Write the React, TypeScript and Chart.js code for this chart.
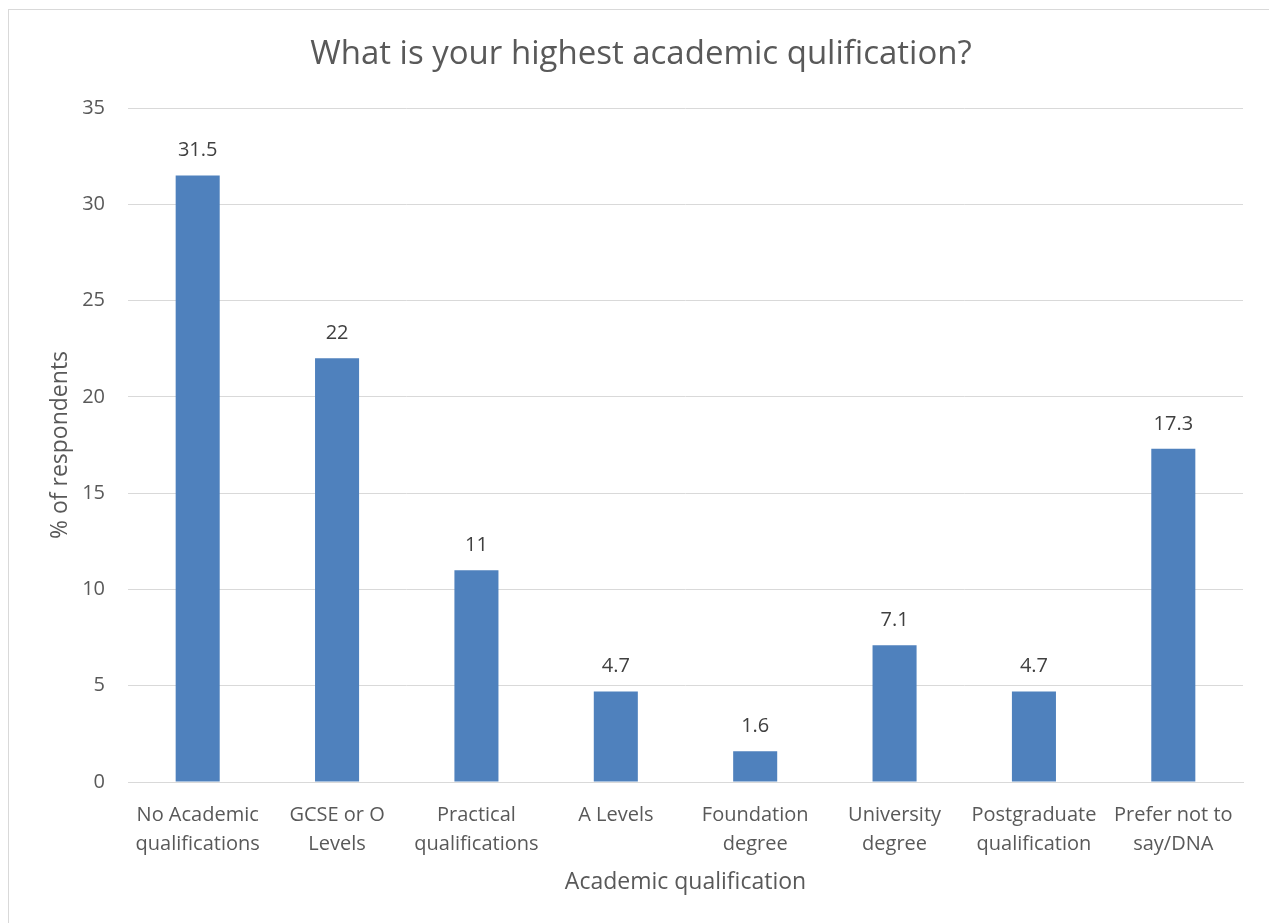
import React, { useEffect, useRef } from "react";
import { Chart, registerables } from "chart.js";

Chart.register(...registerables);

const categories: string[][] = [
  ["No Academic", "qualifications"],
  ["GCSE or O", "Levels"],
  ["Practical", "qualifications"],
  ["A Levels"],
  ["Foundation", "degree"],
  ["University", "degree"],
  ["Postgraduate", "qualification"],
  ["Prefer not to", "say/DNA"],
];
const values: number[] = [31.5, 22, 11, 4.7, 1.6, 7.1, 4.7, 17.3];
const valueLabels: string[] = ["31.5", "22", "11", "4.7", "1.6", "7.1", "4.7", "17.3"];

const FONT = "'Open Sans', sans-serif";
const W = 1260;
const H = 913;

const dataLabelPlugin = {
  id: "dataLabels",
  afterDatasetsDraw(chart: any) {
    const ctx = chart.ctx;
    const meta = chart.getDatasetMeta(0);
    ctx.save();
    ctx.fillStyle = "#404040";
    ctx.font = `20px ${FONT}`;
    ctx.textAlign = "center";
    ctx.textBaseline = "middle";
    meta.data.forEach((bar: any, i: number) => {
      ctx.fillText(valueLabels[i], bar.x, bar.y - 25);
    });
    ctx.restore();
  },
};

export default function App() {
  const ref = useRef<HTMLCanvasElement | null>(null);
  useEffect(() => {
    if (!ref.current) return;
    const chart = new Chart(ref.current, {
      type: "bar",
      data: {
        labels: categories,
        datasets: [
          {
            data: values,
            backgroundColor: "#4f81bd",
            barPercentage: 0.316,
            categoryPercentage: 1,
          },
        ],
      },
      options: {
        responsive: false,
        animation: false,
        layout: { padding: { left: 30, right: 26, top: 0, bottom: 27 } },
        plugins: {
          legend: { display: false },
          tooltip: { enabled: false },
          title: {
            display: true,
            text: "What is your highest academic qulification?",
            color: "#595959",
            font: { family: FONT, size: 33, weight: "normal" },
            padding: { top: 25, bottom: 33.4 },
          },
        },
        scales: {
          x: {
            grid: { display: false, drawTicks: false },
            border: { color: "#d9d9d9", width: 1 },
            ticks: {
              color: "#595959",
              font: { family: FONT, size: 20, lineHeight: 1.45 },
              padding: 19,
              maxRotation: 0,
              autoSkip: false,
            },
            title: {
              display: true,
              text: "Academic qualification",
              color: "#595959",
              font: { family: FONT, size: 23 },
              padding: { top: 0, bottom: 0 },
            },
            afterFit: (s: any) => {
              s.height = 114;
            },
          },
          y: {
            min: 0,
            max: 35,
            ticks: {
              stepSize: 5,
              color: "#595959",
              font: { family: FONT, size: 20 },
              padding: 23,
            },
            grid: { color: "#d9d9d9", lineWidth: 1, drawTicks: false },
            border: { display: false },
            title: {
              display: true,
              text: "% of respondents",
              color: "#595959",
              font: { family: FONT, size: 23 },
              padding: { top: 8, bottom: 0 },
            },
            afterFit: (s: any) => {
              s.width = 89;
            },
          },
        },
      },
      plugins: [dataLabelPlugin],
    });
    return () => chart.destroy();
  }, []);
  return (
    <div
      style={{
        position: "fixed",
        left: 8,
        top: 9,
        width: 1261,
        height: 914,
        borderLeft: "1px solid #d9d9d9",
        borderTop: "1px solid #d9d9d9",
        background: "#fff",
      }}
    >
      <canvas ref={ref} width={W} height={H} style={{ display: "block", width: W, height: H }} />
    </div>
  );
}
